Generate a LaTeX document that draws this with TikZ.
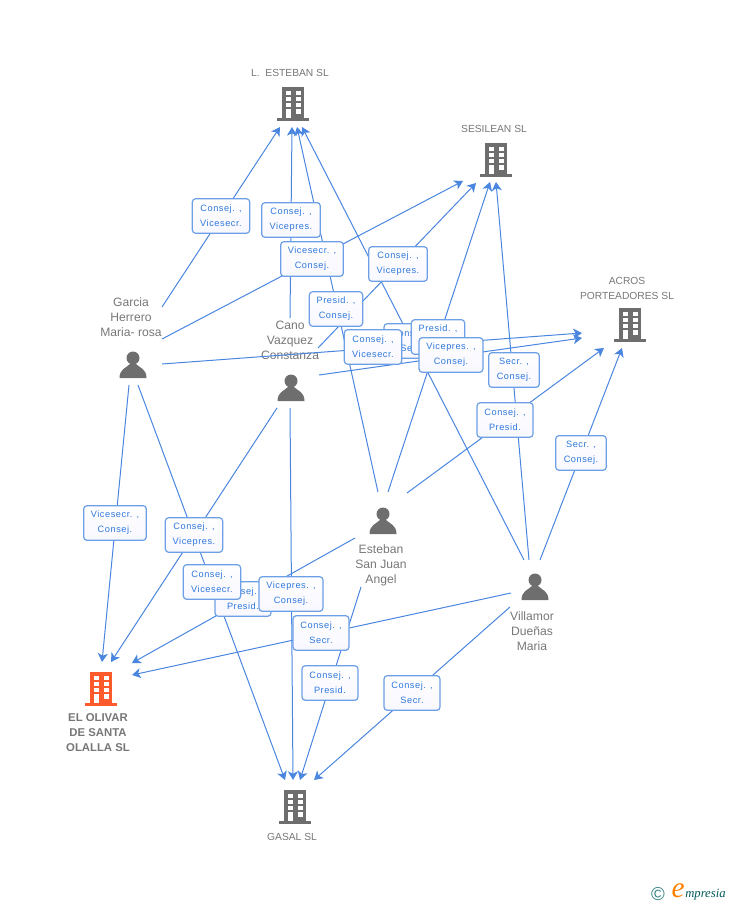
\documentclass[tikz,border=0pt]{standalone}
\usepackage{fontspec}
\usepackage{xcolor}
\usetikzlibrary{arrows.meta}
\setmainfont{Liberation Sans}
\newfontfamily\boxfont[LetterSpace=6]{Liberation Sans}
\newfontfamily\logofont{Liberation Serif}
\definecolor{linkblue}{HTML}{4A86E0}
\definecolor{boxblue}{HTML}{6C9FE6}
\definecolor{boxtext}{HTML}{2F78DC}
\definecolor{icongray}{HTML}{6E6E6E}
\definecolor{namegray}{HTML}{777777}
\definecolor{orangered}{HTML}{FF5A2C}
\tikzset{
    link/.style={draw=linkblue,line width=0.75pt,-{Stealth[length=6.5pt,width=7.5pt,inset=1.8pt]}},
    role/.style={draw=boxblue,line width=0.9pt,rounded corners=2.5pt,top color=white,bottom color=blue!3,
        align=center,inner sep=0pt,text=boxtext,font=\boxfont\fontsize{6.9}{11.2}\selectfont},
    label/.style={align=center,text=namegray,inner sep=0pt,font=\fontsize{7.7}{11.25}\selectfont},
    who/.style={label,font=\fontsize{9.1}{11.25}\selectfont},
    hub/.style={inner sep=0pt,minimum size=20pt},
    pics/building/.style={code={
        \fill[#1] (-11,-17) rectangle (11,14);
        \fill[#1] (-16,14) rectangle (16,17);
        \foreach \r in {-13,-7,-1}{
            \fill[white] (-7.5,\r) rectangle (-2.5,\r+4);
            \fill[white] (2.5,\r) rectangle (7.5,\r+4);
        }
        \fill[white] (-7.5,5) rectangle (-2.5,14);
        \fill[white] (2.5,5) rectangle (7.5,10);
    }},
    pics/person/.style={code={
        \fill[icongray] (0,-7) circle (6.5);
        \fill[icongray] (-13.5,13) .. controls (-13.5,4) and (-7,3) .. (-3,-1) -- (3,-1) .. controls (7,3) and (13.5,4) .. (13.5,13) -- cycle;
    }}
}
\begin{document}
\begin{tikzpicture}[x=0.75pt,y=-0.75pt]
    \useasboundingbox (0,0) rectangle (728,905);
    % firms and people
    \node[hub] (esteban) at (293,104) {};
    \node[hub] (sesilean) at (496,160) {};
    \node[hub] (acros) at (630,325) {};
    \node[hub] (olivar) at (101,689) {};
    \node[hub] (gasal) at (295,807) {};
    \node[hub] (garcia) at (133,365) {};
    \node[hub] (cano) at (291,388) {};
    \node[hub] (sanjuan) at (383,521) {};
    \node[hub] (villamor) at (535,587) {};
    \pic at (esteban) {building=icongray};
    \pic at (sesilean) {building=icongray};
    \pic at (acros) {building=icongray};
    \pic at (olivar) {building=orangered};
    \pic at (gasal) {building=icongray};
    \pic at (garcia) {person};
    \pic at (cano) {person};
    \pic at (sanjuan) {person};
    \pic at (villamor) {person};
    \node[label] (estebanname) at (290,73) {L.\ \ ESTEBAN SL};
    \node[label] (sesileanname) at (494,129) {SESILEAN SL};
    \node[label] (acrosname) at (627,288) {ACROS\\PORTEADORES SL};
    \node[label,font=\fontsize{8.5}{11.25}\selectfont\bfseries] (olivarname) at (98,733) {EL OLIVAR\\DE SANTA\\OLALLA SL};
    \node[label] (gasalname) at (292,837) {GASAL SL};
    \node[who] (garcianame) at (131,317) {Garcia\\Herrero\\Maria- rosa};
    \node[who] (canoname) at (290,340) {Cano\\Vazquez\\Constanza};
    \node[who] (sanjuanname) at (381,565) {Esteban\\San Juan\\Angel};
    \node[who] (villamorname) at (532,631) {Villamor\\Dueñas\\Maria};
    % free ends of the lines
    \coordinate (garciaA) at (162,307);
    \coordinate (garciaB) at (162,339);
    \coordinate (garciaC) at (162,364);
    \coordinate (garciaD) at (129,385);
    \coordinate (garciaE) at (138,385);
    \coordinate (canoA) at (290,318);
    \coordinate (canoB) at (318,348);
    \coordinate (canoC) at (319,375);
    \coordinate (canoD) at (277,408);
    \coordinate (canoE) at (290,408);
    \coordinate (sanjuanA) at (378,492);
    \coordinate (sanjuanB) at (388,492);
    \coordinate (sanjuanC) at (407,493);
    \coordinate (sanjuanD) at (355,538);
    \coordinate (sanjuanE) at (361,587);
    \coordinate (villamorA) at (524,560);
    \coordinate (villamorB) at (529,560);
    \coordinate (villamorC) at (540,560);
    \coordinate (villamorD) at (511,593);
    \coordinate (villamorE) at (510,607);
    \coordinate (estebanA) at (280,127);
    \coordinate (estebanB) at (292,127);
    \coordinate (estebanC) at (297,127);
    \coordinate (estebanD) at (302,127);
    \coordinate (sesileanA) at (463,181);
    \coordinate (sesileanB) at (476,183);
    \coordinate (sesileanC) at (490,182);
    \coordinate (sesileanD) at (496,182);
    \coordinate (acrosA) at (582,333);
    \coordinate (acrosB) at (582,338);
    \coordinate (acrosC) at (604,348);
    \coordinate (acrosD) at (622,348);
    \coordinate (olivarA) at (102,662);
    \coordinate (olivarB) at (111,662);
    \coordinate (olivarC) at (132,663);
    \coordinate (olivarD) at (132,675);
    \coordinate (gasalA) at (285,780);
    \coordinate (gasalB) at (293,780);
    \coordinate (gasalC) at (300,780);
    \coordinate (gasalD) at (314,780);
    % lines
    \draw[link] (garciaA) -- (estebanA);
    \draw[link] (garciaB) -- (sesileanA);
    \draw[link] (garciaC) -- (acrosA);
    \draw[link] (garciaD) -- (olivarA);
    \draw[link] (garciaE) -- (gasalA);
    \draw[link] (canoA) -- (estebanB);
    \draw[link] (canoB) -- (sesileanB);
    \draw[link] (canoC) -- (acrosB);
    \draw[link] (canoD) -- (olivarB);
    \draw[link] (canoE) -- (gasalB);
    \draw[link] (sanjuanA) -- (estebanC);
    \draw[link] (sanjuanB) -- (sesileanC);
    \draw[link] (sanjuanC) -- (acrosC);
    \draw[link] (sanjuanD) -- (olivarC);
    \draw[link] (sanjuanE) -- (gasalC);
    \draw[link] (villamorA) -- (estebanD);
    \draw[link] (villamorB) -- (sesileanD);
    \draw[link] (villamorC) -- (acrosD);
    \draw[link] (villamorD) -- (olivarD);
    \draw[link] (villamorE) -- (gasalD);
    % roles
    \node[role,minimum width=43pt,minimum height=26pt] (roleA) at (221,216) {Consej. ,\\Vicesecr.};
    \node[role,minimum width=44pt,minimum height=26pt] (roleB) at (291,220) {Consej. ,\\Vicepres.};
    \node[role,minimum width=47pt,minimum height=26pt] (roleC) at (312,259) {Vicesecr. ,\\Consej.};
    \node[role,minimum width=44pt,minimum height=26pt] (roleD) at (398,264) {Consej. ,\\Vicepres.};
    \node[role,minimum width=40pt,minimum height=26pt] (roleE) at (336,309) {Presid. ,\\Consej.};
    \node[role,minimum width=42pt,minimum height=26pt] (roleF) at (412,341) {Consej. ,\\Secr.};
    \node[role,minimum width=43pt,minimum height=26pt] (roleG) at (373,347) {Consej. ,\\Vicesecr.};
    \node[role,minimum width=40pt,minimum height=26pt] (roleH) at (438,337) {Presid. ,\\Consej.};
    \node[role,minimum width=48pt,minimum height=26pt] (roleI) at (451,355) {Vicepres. ,\\Consej.};
    \node[role,minimum width=38pt,minimum height=26pt] (roleJ) at (514,370) {Secr. ,\\Consej.};
    \node[role,minimum width=42pt,minimum height=26pt] (roleK) at (505,420) {Consej. ,\\Presid.};
    \node[role,minimum width=38pt,minimum height=26pt] (roleL) at (581,453) {Secr. ,\\Consej.};
    \node[role,minimum width=47pt,minimum height=26pt] (roleM) at (115,523) {Vicesecr. ,\\Consej.};
    \node[role,minimum width=43pt,minimum height=26pt] (roleN) at (194,535) {Consej. ,\\Vicepres.};
    \node[role,minimum width=42pt,minimum height=26pt] (roleO) at (243,599) {Consej. ,\\Presid.};
    \node[role,minimum width=43pt,minimum height=26pt] (roleP) at (212,582) {Consej. ,\\Vicesecr.};
    \node[role,minimum width=48pt,minimum height=26pt] (roleQ) at (291,594) {Vicepres. ,\\Consej.};
    \node[role,minimum width=42pt,minimum height=26pt] (roleR) at (321,633) {Consej. ,\\Secr.};
    \node[role,minimum width=42pt,minimum height=26pt] (roleS) at (330,683) {Consej. ,\\Presid.};
    \node[role,minimum width=42pt,minimum height=26pt] (roleT) at (412,693) {Consej. ,\\Secr.};
    % logo
    \node[inner sep=0pt,text=teal!60!gray,font=\fontsize{14}{14}\selectfont] (logomark) at (658,894) {©};
    \node[inner sep=0pt,text=orange,font=\logofont\itshape\fontsize{22}{22}\selectfont] (logoe) at (678,891) {e};
    \node[inner sep=0pt,anchor=west,text=teal!70!black,font=\logofont\itshape\fontsize{9.5}{10}\selectfont] (logotext) at (685,895) {mpresia};
\end{tikzpicture}
\end{document}
